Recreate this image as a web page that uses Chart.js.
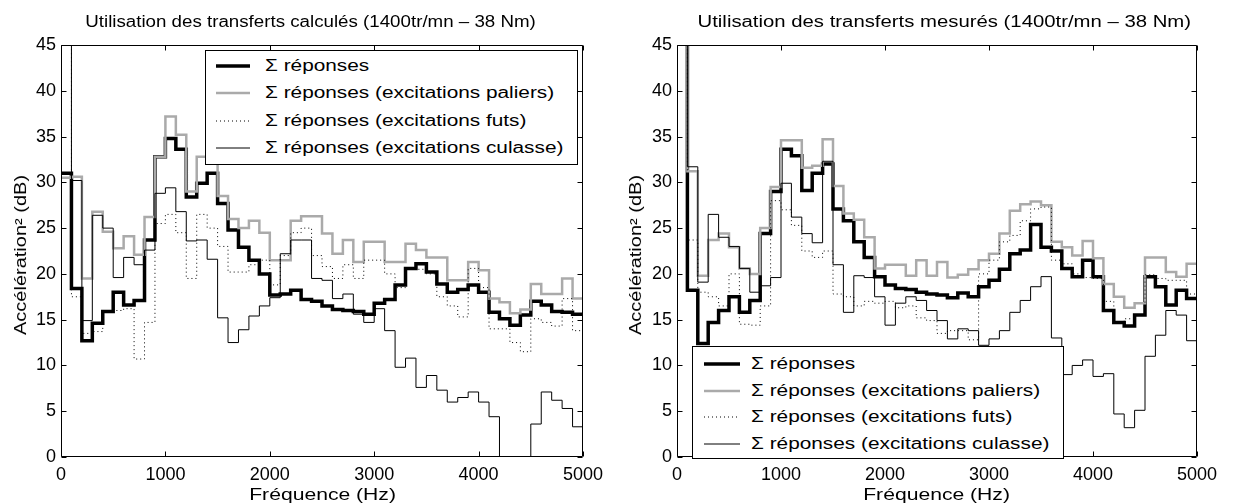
<!DOCTYPE html>
<html><head><meta charset="utf-8">
<script src="https://cdn.jsdelivr.net/npm/chart.js@4.4.0/dist/chart.umd.min.js"></script>
<style>
html,body{margin:0;padding:0;background:#fff;}
#wrap{position:relative;width:1234px;height:504px;overflow:hidden;font-family:"Liberation Sans",Arial,sans-serif;color:#000;}
canvas{position:absolute;top:0;}
.t{position:absolute;white-space:nowrap;line-height:1;font-size:16px;}
.lg{position:absolute;background:#fff;border:1px solid #000;box-sizing:border-box;}
.row{position:absolute;left:0;height:20px;}
.row svg{position:absolute;left:0;top:0;}
.row span{position:absolute;top:2px;white-space:nowrap;font-size:16px;line-height:16px;transform-origin:0 50%;}
</style></head>
<body><div id="wrap">
<canvas id="c1" width="617" height="504" style="left:0"></canvas>
<canvas id="c2" width="617" height="504" style="left:617px"></canvas>
</div>
<script>
// ---------- data ----------
const FREQ = [0,100,200,300,400,500,600,700,800,900,1000,1100,1200,1300,1400,1500,1600,1700,1800,1900,
  2000,2100,2200,2300,2400,2500,2600,2700,2800,2900,3000,3100,3200,3300,3400,3500,3600,3700,3800,3900,
  4000,4100,4200,4300,4400,4500,4600,4700,4800,4900,5000];
const X_TICKS = [0,1000,2000,3000,4000,5000];
const Y_TICKS = [0,5,10,15,20,25,30,35,40,45];
const SERIES_NAMES = ["\u03A3 réponses","\u03A3 réponses (excitations paliers)","\u03A3 réponses (excitations futs)","\u03A3 réponses (excitations culasse)"];
const TITLES = ["Utilisation des transferts calculés (1400tr/mn \u2013 38 Nm)","Utilisation des transferts mesurés (1400tr/mn \u2013 38 Nm)"];
const X_LABEL = "Fréquence (Hz)";
const Y_LABEL = "Accélération² (dB)";

const LEFT_TOTAL = [31.0,18.4,12.7,14.6,15.9,18.0,16.6,17.1,23.7,32.8, 34.8,33.6,28.4,29.9,31.0,27.7,24.8,22.9,21.5,20.0,
  17.7,17.8,18.2,17.2,17.0,16.5,16.1,16.0,15.9,15.6, 16.8,17.2,18.8,20.6,21.1,20.2,18.9,18.0,18.3,18.8,
  18.0,15.8,15.1,14.4,15.5,17.0,16.6,15.9,15.8,15.6];
const LEFT_PALIERS = [30.5,30.6,19.5,26.8,24.6,22.8,24.1,22.1,26.2,32.8, 37.2,35.2,29.0,32.8,32.8,28.5,26.0,25.0,25.8,24.5,
  21.5,21.5,25.8,26.3,26.3,24.4,22.2,23.7,21.3,23.5, 23.5,21.3,21.3,23.3,22.6,21.8,21.8,19.3,19.3,21.3,
  20.4,17.3,16.9,15.7,16.1,18.9,17.8,17.8,19.5,17.3];
const LEFT_FUTS = [60,17.5,13.5,13.7,15.8,16.0,16.2,10.7,14.7,25.5, 26.5,24.5,19.5,26.5,25.0,23.0,20.2,20.2,21.0,21.5,
  18.8,22.0,24.5,25.0,22.0,20.8,19.5,21.0,19.5,21.5, 21.5,20.0,18.5,20.5,20.5,20.0,17.5,16.5,15.3,20.6,
  18.5,14.0,14.0,12.5,11.5,15.1,14.7,14.3,17.3,13.8];
const LEFT_CULASSE = [60,30.2,14.9,26.4,25.0,19.6,21.8,21.0,22.6,28.8, 29.4,26.8,23.6,23.7,21.6,15.2,12.5,13.9,15.4,16.5,
  17.4,22.2,23.7,23.7,19.5,19.3,17.3,17.8,15.6,14.7, 16.2,13.8,9.8,10.8,7.6,8.9,7.3,6.0,6.5,7.1,
  6.0,4.4,-5,-5,-5,3.6,7.1,6.2,5.3,3.3];

const RIGHT_TOTAL = [60,18.2,12.4,14.7,16.0,17.5,15.8,17.1,24.4,29.0, 33.6,32.9,29.1,31.0,32.0,27.1,25.8,23.5,21.8,19.7,
  18.8,18.4,18.3,18.0,17.8,17.7,17.4,17.9,17.5,18.6, 19.3,20.5,22.2,22.6,25.4,22.9,22.5,20.6,19.7,21.5,
  19.7,16.0,14.7,14.3,15.5,19.7,18.6,16.6,18.2,17.3];
const RIGHT_PALIERS = [60,31.2,19.8,23.7,24.4,22.9,20.6,20.0,25.0,29.5, 34.6,34.6,31.6,31.8,34.7,29.6,26.6,25.9,24.0,20.6,
  21.0,21.0,19.8,21.5,19.8,21.3,19.6,19.9,20.5,21.5, 22.2,24.4,26.9,27.6,27.9,27.5,23.5,22.9,22.0,23.6,
  21.7,18.9,17.5,16.3,16.8,21.8,21.8,20.2,19.7,21.1];
const RIGHT_FUTS = [60,23.7,18.0,17.5,16.5,20.0,14.5,14.4,16.5,28.0, 27.0,25.3,22.5,21.8,22.5,17.8,17.5,16.5,17.0,16.8,
  17.0,16.3,16.5,15.2,14.9,13.5,13.8,13.8,12.8,20.0, 21.5,23.5,24.2,25.8,27.1,27.3,21.5,21.1,20.0,19.6,
  19.5,17.0,14.7,15.1,15.5,19.9,19.5,19.3,19.3,17.8];
const RIGHT_CULASSE = [60,31.7,19.1,26.5,24.0,23.0,20.6,18.0,18.7,19.6, 29.9,26.2,24.4,23.4,32.3,21.0,15.8,19.8,19.6,17.5,
  14.4,16.8,17.5,17.1,16.0,14.9,12.9,14.0,13.8,12.2, 12.9,13.8,15.8,17.1,18.6,19.7,13.0,9.0,10.0,10.6,
  8.8,9.1,4.7,3.2,5.1,11.0,13.3,16.0,15.5,12.7];

// ---------- styles ----------
const FONT = '"Liberation Sans", Arial, sans-serif';
const STYLES = [
  {color:'#000000', width:3.5, dash:[]},
  {color:'#aaaaaa', width:2.5, dash:[]},
  {color:'#000000', width:1, dash:[1,3]},
  {color:'#000000', width:1, dash:[]}
];
const ORDERS = [3,2,1,0];

function stairPoints(vals){
  const pts = vals.map((v,i)=>({x:FREQ[i], y:v}));
  pts.push({x:FREQ[vals.length], y:vals[vals.length-1]});
  return pts;
}

const boxTicks = {
  id:'boxTicks',
  afterDatasetsDraw(chart){
    const {ctx, chartArea:a} = chart;
    const xs = chart.scales.x, ys = chart.scales.y;
    ctx.save();
    ctx.strokeStyle='#000'; ctx.lineWidth=1; ctx.setLineDash([]);
    const L=Math.round(a.left)+0.5, R=Math.round(a.right)-0.5, T=Math.round(a.top)+0.5, B=Math.round(a.bottom)-0.5;
    ctx.beginPath();
    ctx.rect(L,T,R-L,B-T);
    xs.ticks.forEach(t=>{const p=Math.round(xs.getPixelForValue(t.value))+0.5; ctx.moveTo(p,B); ctx.lineTo(p,B-5); ctx.moveTo(p,T); ctx.lineTo(p,T+5);});
    ys.ticks.forEach(t=>{const p=Math.round(ys.getPixelForValue(t.value))+0.5; ctx.moveTo(L,p); ctx.lineTo(L+5,p); ctx.moveTo(R,p); ctx.lineTo(R-5,p);});
    ctx.stroke();
    ctx.restore();
  }
};

function makeChart(id, seriesList, pad, yWidth){
  const datasets = seriesList.map((vals,k)=>({
    label: SERIES_NAMES[k],
    data: stairPoints(vals),
    stepped: 'before',
    borderColor: STYLES[k].color,
    borderWidth: STYLES[k].width,
    borderDash: STYLES[k].dash,
    borderCapStyle:'butt',
    borderJoinStyle:'miter',
    pointRadius:0,
    fill:false,
    order: ORDERS[k],
    clip: 0
  }));
  return new Chart(document.getElementById(id), {
    type:'line',
    data:{datasets},
    options:{
      responsive:false, animation:false, devicePixelRatio:1,
      layout:{padding:pad},
      plugins:{legend:{display:false}, tooltip:{enabled:false}, title:{display:false}},
      scales:{
        x:{type:'linear', min:0, max:5000,
           afterBuildTicks(s){ s.ticks = X_TICKS.map(v=>({value:v})); },
           ticks:{color:'#000', font:{family:FONT,size:18}, padding:7, maxRotation:0, autoSkip:false, callback:v=>String(v)},
           grid:{display:false, drawTicks:false}, border:{display:false},
           afterFit(s){ s.height = 47; }},
        y:{type:'linear', min:0, max:45,
           afterBuildTicks(s){ s.ticks = Y_TICKS.map(v=>({value:v})); },
           ticks:{color:'#000', font:{family:FONT,size:18}, padding:5, callback:v=>String(v)},
           grid:{display:false, drawTicks:false}, border:{display:false},
           afterFit(s){ s.width = yWidth; }}
      }
    },
    plugins:[boxTicks]
  });
}

makeChart('c1',[LEFT_TOTAL,LEFT_PALIERS,LEFT_FUTS,LEFT_CULASSE],{left:0,top:45,right:34,bottom:0},61);
makeChart('c2',[RIGHT_TOTAL,RIGHT_PALIERS,RIGHT_FUTS,RIGHT_CULASSE],{left:0,top:45,right:37,bottom:0},60);

// ---------- text overlays ----------
const wrap = document.getElementById('wrap');
function addText(str, cx, cy, sx, rot){
  const d = document.createElement('div');
  d.className='t'; d.textContent=str;
  wrap.appendChild(d);
  const w = d.offsetWidth, h = d.offsetHeight;
  d.style.left = (cx - w/2)+'px'; d.style.top = (cy - h/2)+'px';
  d.style.transform = (rot? 'rotate(-90deg) ':'') + 'scaleX('+sx+')';
}
addText(TITLES[0], 310, 22, 1.17, false);
addText(TITLES[1], 944, 22, 1.27, false);
addText(X_LABEL, 322, 495, 1.32, false);
addText(X_LABEL, 936, 495, 1.32, false);
addText(Y_LABEL, 21, 255, 1.25, true);
addText(Y_LABEL, 636, 255, 1.25, true);

function addLegend(left, top, width, height, rowsY, lineX0, lineX1, textX, sx){
  const box = document.createElement('div');
  box.className='lg';
  box.style.left=left+'px'; box.style.top=top+'px'; box.style.width=width+'px'; box.style.height=height+'px';
  SERIES_NAMES.forEach((name,k)=>{
    const r = document.createElement('div');
    r.className='row'; r.style.top=(rowsY[k]-10)+'px'; r.style.width=(width-2)+'px';
    const st = STYLES[k];
    r.innerHTML = '<svg width="'+(lineX1+2)+'" height="20"><line x1="'+lineX0+'" y1="10" x2="'+lineX1+'" y2="10" stroke="'+st.color+'" stroke-width="'+st.width+'" stroke-dasharray="'+(st.dash.length?st.dash.join(','):'none')+'"/></svg>';
    const sp = document.createElement('span');
    sp.textContent = name; sp.style.left=textX+'px'; sp.style.transform='scaleX('+sx+')';
    r.appendChild(sp);
    box.appendChild(r);
  });
  wrap.appendChild(box);
}
addLegend(205, 50, 373, 115, [15,42,70,97], 10, 44, 59, 1.3);
addLegend(692, 346, 372, 113, [17,44,70,97], 11, 47, 58, 1.3);
</script>
</body></html>
